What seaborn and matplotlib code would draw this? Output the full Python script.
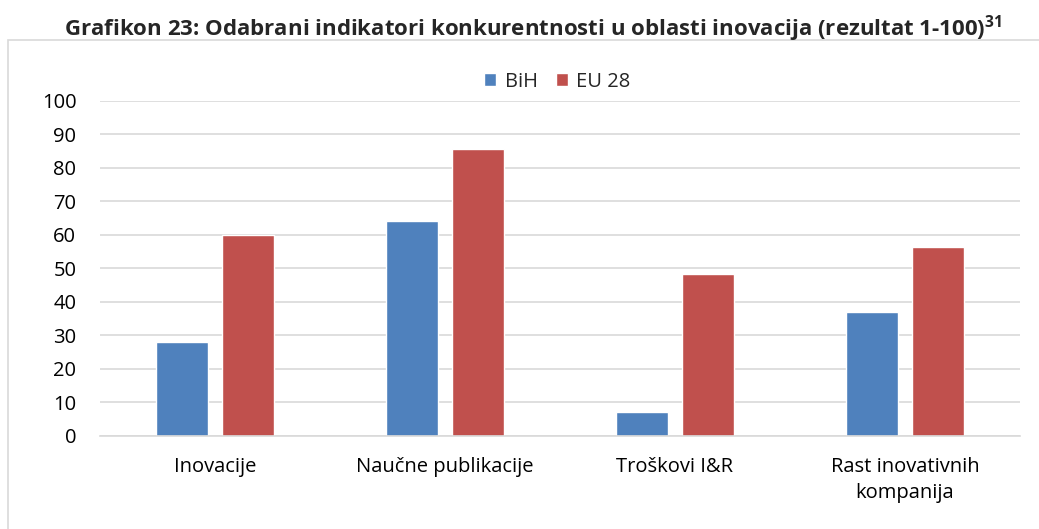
import pandas as pd
import seaborn as sns
import matplotlib.pyplot as plt
from matplotlib.patches import Rectangle

categories = ["Inovacije", "Naučne publikacije", "Troškovi I&R", "Rast inovativnih\nkompanija"]
series = ["BiH", "EU 28"]
bih = [28, 64, 7, 37]
eu28 = [60, 85.6, 48.3, 56.2]
colors = ["#4F81BD", "#C0504D"]

df = pd.DataFrame({
    "kategorija": categories * 2,
    "serija": [series[0]] * 4 + [series[1]] * 4,
    "vrijednost": bih + eu28,
})

sns.set_style("white")
plt.rcParams["font.family"] = ["Open Sans", "DejaVu Sans"]
plt.rcParams["mathtext.fontset"] = "custom"
plt.rcParams["mathtext.rm"] = "Open Sans"
plt.rcParams["mathtext.bf"] = "Open Sans:bold"

fig = plt.figure(figsize=(10.39, 5.29), dpi=100)
ax = fig.add_axes([0.0962, 0.1764, 0.8855, 0.6332])

sns.barplot(data=df, x="kategorija", y="vrijednost", hue="serija",
            palette=colors, width=0.574, gap=0.21, ax=ax, saturation=1)

ax.set_ylim(0, 100)
ax.set_xlim(-0.5, 3.5)
ax.set_yticks(range(0, 101, 10))
ax.yaxis.grid(True, color="#D9D9D9", linewidth=1.2)
ax.set_axisbelow(True)
for s in ["top", "right", "left"]:
    ax.spines[s].set_visible(False)
ax.spines["bottom"].set_color("#D9D9D9")
ax.spines["bottom"].set_linewidth(1.2)
ax.tick_params(axis="both", length=0, labelsize=14.5, colors="black")
ax.tick_params(axis="x", pad=15)
ax.tick_params(axis="y", pad=17)
for lbl in ax.get_xticklabels():
    lbl.set_linespacing(1.45)
ax.set_xlabel("")
ax.set_ylabel("")

ax.legend(loc="lower center", bbox_to_anchor=(0.497, 0.985), ncol=2, frameon=False,
          fontsize=14.5, handlelength=0.6, handleheight=0.6, handletextpad=0.4,
          columnspacing=0.9, borderaxespad=0.3)

fig.text(0.513, 0.946,
         r"Grafikon 23: Odabrani indikatori konkurentnosti u oblasti inovacija (rezultat 1-100)$^{\mathbf{31}}$",
         ha="center", va="center", fontsize=16, fontweight="bold")

fig.patches.append(Rectangle((8 / 1039, -0.1), 1.2, 1 - 40 / 529 + 0.1,
                             transform=fig.transFigure, fill=False,
                             edgecolor="#D9D9D9", linewidth=1.2))

fig.savefig("out.png", dpi=100)
